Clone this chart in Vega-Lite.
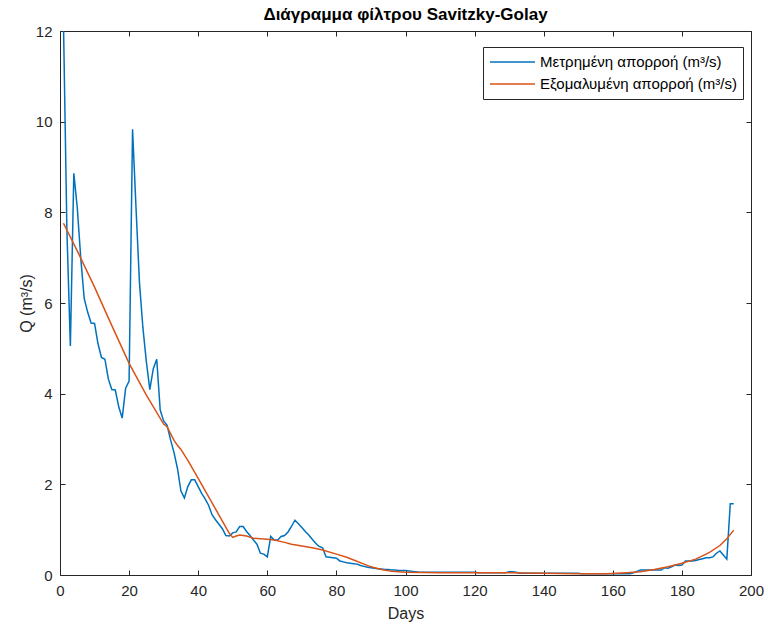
{
 "$schema": "https://vega.github.io/schema/vega-lite/v6.json",
 "width": 691, "height": 544,
 "autosize": "none",
 "padding": {"left": 60, "top": 31, "right": 17, "bottom": 51},
 "background": "white",
 "config": {"view": {"stroke": "#262626", "strokeWidth": 1}, "font": "Liberation Sans"},
 "title": {"text": "Διάγραμμα φίλτρου Savitzky-Golay", "fontSize": 17, "fontWeight": "bold", "color": "#000", "offset": -2, "anchor": "middle"},
 "data": {"values": [
  {"d":1,"m":12.2,"s":7.76},{"d":2,"m":7.6},{"d":3,"m":5.05},{"d":4,"m":8.86},{"d":5,"m":8.1,"s":7.15},{"d":6,"m":7.0},{"d":7,"m":6.1},{"d":8,"m":5.8},{"d":9,"m":5.56},{"d":10,"m":5.55,"s":6.35},
  {"d":11,"m":5.1},{"d":12,"m":4.8},{"d":13,"m":4.76},{"d":14,"m":4.32},{"d":15,"m":4.09,"s":5.5},{"d":16,"m":4.08},{"d":17,"m":3.71},{"d":18,"m":3.46},{"d":19,"m":4.12},{"d":20,"m":4.28,"s":4.67},
  {"d":21,"m":9.83},{"d":22,"m":8.1},{"d":23,"m":6.45},{"d":24,"m":5.45},{"d":25,"m":4.7,"s":3.97},{"d":26,"m":4.09},{"d":27,"m":4.55},{"d":28,"m":4.76},{"d":29,"m":3.64},{"d":30,"m":3.4,"s":3.33},
  {"d":31,"m":3.3,"s":3.27},{"d":32,"m":2.98,"s":3.12},{"d":33,"m":2.7,"s":2.97},{"d":34,"m":2.35,"s":2.86},{"d":35,"m":1.85,"s":2.77},{"d":36,"m":1.7},{"d":37,"m":1.95,"s":2.53},{"d":38,"m":2.1},{"d":39,"m":2.1},{"d":40,"m":1.95,"s":2.13},
  {"d":41,"m":1.8},{"d":42,"m":1.68},{"d":43,"m":1.54},{"d":44,"m":1.33},{"d":45,"m":1.22,"s":1.46},{"d":46,"m":1.12},{"d":47,"m":1.02},{"d":48,"m":0.87},{"d":49,"m":0.86,"s":0.92},{"d":50,"m":0.93,"s":0.83},
  {"d":51,"m":0.95,"s":0.86},{"d":52,"m":1.07,"s":0.88},{"d":53,"m":1.07},{"d":54,"m":0.96,"s":0.86},{"d":55,"m":0.87},{"d":56,"m":0.77,"s":0.81},{"d":57,"m":0.68},{"d":58,"m":0.48},{"d":59,"m":0.46},{"d":60,"m":0.4,"s":0.79},
  {"d":61,"m":0.85},{"d":62,"m":0.77,"s":0.77},{"d":63,"m":0.77},{"d":64,"m":0.85},{"d":65,"m":0.87,"s":0.72},{"d":66,"m":0.95},{"d":67,"m":1.07,"s":0.68},{"d":68,"m":1.21},{"d":69,"m":1.13},{"d":70,"m":1.05,"s":0.64},
  {"d":71,"m":0.96},{"d":72,"m":0.88},{"d":73,"m":0.79,"s":0.6},{"d":74,"m":0.7},{"d":75,"m":0.63},{"d":76,"m":0.6,"s":0.55},{"d":77,"m":0.4},{"d":78,"m":0.39},{"d":79,"m":0.38},{"d":80,"m":0.37,"s":0.46},
  {"d":81,"m":0.31},{"d":82,"m":0.29},{"d":83,"m":0.27,"s":0.39},{"d":84,"m":0.26},{"d":85,"m":0.25,"s":0.33},{"d":86,"m":0.24},{"d":87,"m":0.21},{"d":88,"m":0.19,"s":0.24},{"d":89,"m":0.17},{"d":90,"m":0.16,"s":0.18},
  {"d":91,"m":0.15},{"d":92,"m":0.14},{"d":93,"m":0.13,"s":0.12},{"d":94,"m":0.12},{"d":95,"m":0.12},{"d":96,"m":0.11,"s":0.08},{"d":97,"m":0.11},{"d":98,"m":0.1},{"d":99,"m":0.1},{"d":100,"m":0.1,"s":0.06},
  {"d":101,"m":0.09},{"d":102,"m":0.08},{"d":103,"m":0.07},{"d":104,"m":0.06},{"d":105,"m":0.06},{"d":106,"m":0.06},{"d":107,"m":0.06},{"d":108,"m":0.06},{"d":109,"m":0.06},{"d":110,"m":0.06,"s":0.05},
  {"d":111,"m":0.06},{"d":112,"m":0.06},{"d":113,"m":0.06},{"d":114,"m":0.06},{"d":115,"m":0.06},{"d":116,"m":0.06},{"d":117,"m":0.06},{"d":118,"m":0.06},{"d":119,"m":0.06},{"d":120,"m":0.06},
  {"d":121,"m":0.05},{"d":122,"m":0.05},{"d":123,"m":0.05},{"d":124,"m":0.05},{"d":125,"m":0.05},{"d":126,"m":0.05},{"d":127,"m":0.05},{"d":128,"m":0.05},{"d":129,"m":0.05},{"d":130,"m":0.07,"s":0.05},
  {"d":131,"m":0.07},{"d":132,"m":0.06},{"d":133,"m":0.04},{"d":134,"m":0.04},{"d":135,"m":0.04},{"d":136,"m":0.04},{"d":137,"m":0.04},{"d":138,"m":0.04},{"d":139,"m":0.04},{"d":140,"m":0.04,"s":0.04},
  {"d":141,"m":0.04},{"d":142,"m":0.04},{"d":143,"m":0.04},{"d":144,"m":0.04},{"d":145,"m":0.04},{"d":146,"m":0.04},{"d":147,"m":0.04},{"d":148,"m":0.04},{"d":149,"m":0.04},{"d":150,"m":0.04,"s":0.03},
  {"d":151,"m":0.03},{"d":152,"m":0.03},{"d":153,"m":0.03},{"d":154,"m":0.03},{"d":155,"m":0.03},{"d":156,"m":0.03},{"d":157,"m":0.03},{"d":158,"m":0.03,"s":0.03},{"d":159,"m":0.03},{"d":160,"m":0.03},
  {"d":161,"m":0.03},{"d":162,"m":0.03},{"d":163,"m":0.03},{"d":164,"m":0.03,"s":0.05},{"d":165,"m":0.03},{"d":166,"m":0.05},{"d":167,"m":0.08},{"d":168,"m":0.11,"s":0.07},{"d":169,"m":0.11},{"d":170,"m":0.11},
  {"d":171,"m":0.11},{"d":172,"m":0.11,"s":0.12},{"d":173,"m":0.11},{"d":174,"m":0.11},{"d":175,"m":0.16},{"d":176,"m":0.15,"s":0.18},{"d":177,"m":0.18},{"d":178,"m":0.22},{"d":179,"m":0.21},{"d":180,"m":0.22,"s":0.26},
  {"d":181,"m":0.31},{"d":182,"m":0.31},{"d":183,"m":0.31},{"d":184,"m":0.32,"s":0.35},{"d":185,"m":0.34},{"d":186,"m":0.36},{"d":187,"m":0.38},{"d":188,"m":0.38,"s":0.5},{"d":189,"m":0.4},{"d":190,"m":0.48},
  {"d":191,"m":0.53,"s":0.65},{"d":192,"m":0.44},{"d":193,"m":0.35,"s":0.8},{"d":194,"m":1.57},{"d":195,"m":1.57,"s":0.99}
 ]},
 "transform": [{"fold": ["m", "s"], "as": ["k", "q"]}, {"filter": "isValid(datum.q)"}],
 "layer": [
  {
   "mark": {"type": "line", "strokeWidth": 1.5, "clip": true},
   "encoding": {
    "x": {"field": "d", "type": "quantitative", "scale": {"domain": [0, 200], "nice": false},
          "axis": {"orient": "bottom", "values": [0,20,40,60,80,100,120,140,160,180,200], "title": "Days", "grid": false, "domain": false, "labelFlush": false,
                   "tickSize": -5, "tickColor": "#262626", "labelColor": "#262626", "labelFontSize": 15, "labelPadding": 13,
                   "titleFontSize": 16, "titleFontWeight": "normal", "titleColor": "#262626", "titlePadding": 7}},
    "y": {"field": "q", "type": "quantitative", "scale": {"domain": [0, 12], "nice": false},
          "axis": {"orient": "left", "values": [0,2,4,6,8,10,12], "title": "Q (m³/s)", "grid": false, "domain": false, "labelFlush": false,
                   "tickSize": -5, "tickColor": "#262626", "labelColor": "#262626", "labelFontSize": 15, "labelPadding": 13,
                   "titleFontSize": 16, "titleFontWeight": "normal", "titleColor": "#262626", "titlePadding": 1}},
    "color": {"field": "k", "type": "nominal", "scale": {"domain": ["m", "s"], "range": ["#0072BD", "#D95319"]},
              "legend": {"orient": "none", "legendX": 423, "legendY": 16, "title": null,
                         "labelExpr": "datum.value == 'm' ? 'Μετρημένη απορροή (m³/s)' : 'Εξομαλυμένη απορροή (m³/s)'",
                         "symbolType": "stroke", "symbolSize": 2025, "symbolStrokeWidth": 1.5, "clipHeight": 18,
                         "labelFontSize": 15, "labelColor": "#000", "strokeColor": "#262626", "fillColor": "white",
                         "padding": 6, "labelLimit": 400, "rowPadding": 4}}
   }
  },
  {
   "mark": {"type": "line", "opacity": 0},
   "encoding": {
    "x": {"field": "d", "type": "quantitative", "scale": {"domain": [0, 200], "nice": false},
          "axis": {"orient": "top", "values": [0,20,40,60,80,100,120,140,160,180,200], "title": null, "labels": false, "grid": false, "domain": false, "tickSize": -5, "tickColor": "#262626"}},
    "y": {"field": "q", "type": "quantitative", "scale": {"domain": [0, 12], "nice": false},
          "axis": {"orient": "right", "values": [0,2,4,6,8,10,12], "title": null, "labels": false, "grid": false, "domain": false, "tickSize": -5, "tickColor": "#262626"}}
   }
  }
 ],
 "resolve": {"axis": {"x": "independent", "y": "independent"}}
}
